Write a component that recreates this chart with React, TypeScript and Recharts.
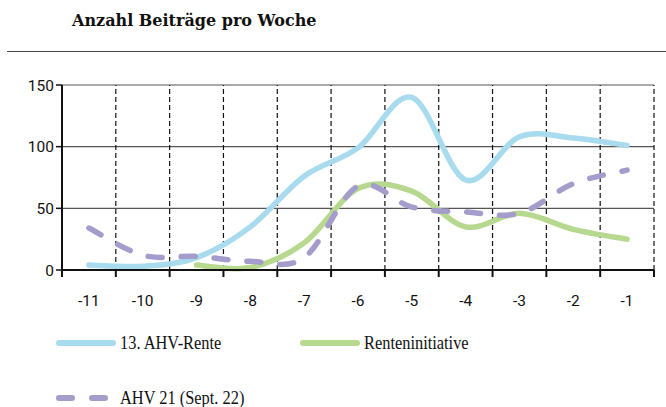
import React from 'react';
import { LineChart, Line, XAxis, YAxis, CartesianGrid, ReferenceLine } from 'recharts';

const weeks = [-11, -10, -9, -8, -7, -6, -5, -4, -3, -2, -1];
const ahvRente = [4, 3, 10, 35, 76, 99, 140, 73, 108, 107, 101];
const renteninitiative = [null, null, 4, 2, 22, 66, 64, 35, 46, 33, 25];
const ahv21 = [34, 12, 11, 7, 10, 68, 51, 47, 46, 70, 81];
const yTicks = [0, 50, 100, 150];
const titleText = 'Anzahl Beiträge pro Woche';
const seriesNames = ['13. AHV-Rente', 'Renteninitiative', 'AHV 21 (Sept. 22)'];

const data = weeks.map((w, i) => ({
  week: w,
  ahvRente: ahvRente[i],
  renteninitiative: renteninitiative[i],
  ahv21: ahv21[i],
}));

const boundaries = [...weeks.map((w) => w - 0.5), weeks[weeks.length - 1] + 0.5];
const xTicks = [...boundaries, ...weeks].sort((a, b) => a - b);

const series = [
  { key: 'ahvRente', name: seriesNames[0], color: '#a8dbee', dash: undefined as string | undefined },
  { key: 'renteninitiative', name: seriesNames[1], color: '#b7d88f', dash: undefined as string | undefined },
  { key: 'ahv21', name: seriesNames[2], color: '#a49ccb', dash: '14 19' },
];

// Excel-like smoothing (uniform Catmull-Rom as cubic Bezier)
function smoothCurve(context: any) {
  let pts: [number, number][] = [];
  return {
    areaStart() {},
    areaEnd() {},
    lineStart() {
      pts = [];
    },
    point(x: number, y: number) {
      pts.push([+x, +y]);
    },
    lineEnd() {
      const n = pts.length;
      if (n === 0) return;
      context.moveTo(pts[0][0], pts[0][1]);
      if (n === 1) return;
      for (let i = 0; i < n - 1; i++) {
        const p0 = pts[i - 1] || pts[i];
        const p1 = pts[i];
        const p2 = pts[i + 1];
        const p3 = pts[i + 2] || pts[i + 1];
        const c1x = p1[0] + (p2[0] - p0[0]) / 6;
        const c1y = p1[1] + (p2[1] - p0[1]) / 6;
        const c2x = p2[0] - (p3[0] - p1[0]) / 6;
        const c2y = p2[1] - (p3[1] - p1[1]) / 6;
        context.bezierCurveTo(c1x, c1y, c2x, c2y, p2[0], p2[1]);
      }
    },
  };
}

const XTick = (props: any) => {
  const { x, y, payload } = props;
  const v = payload.value;
  if (Number.isInteger(v)) {
    return (
      <text x={x} y={y} dy={29} textAnchor="middle" fontFamily="Roboto" fontSize={15.5} fill="#111">
        {v}
      </text>
    );
  }
  return <line x1={x} x2={x} y1={y - 7} y2={y} stroke="#111" strokeWidth={2} />;
};

const LegendItem = ({ s, left, top }: { s: (typeof series)[number]; left: number; top: number }) => (
  <div style={{ position: 'absolute', left, top, height: 20, display: 'flex', alignItems: 'center' }}>
    <svg width={60} height={10} style={{ display: 'block' }}>
      <line
        x1={3}
        x2={s.dash ? 52 : 57}
        y1={5}
        y2={5}
        stroke={s.color}
        strokeWidth={6}
        strokeLinecap="round"
        strokeDasharray={s.dash ? '13 20' : undefined}
      />
    </svg>
    <span
      style={{
        fontFamily: '"Liberation Serif", serif',
        fontSize: 19.5,
        color: '#111',
        marginLeft: 4,
        whiteSpace: 'nowrap',
        display: 'inline-block',
        transform: 'scaleX(0.84)',
        transformOrigin: 'left center',
      }}
    >
      {s.name}
    </span>
  </div>
);

export default function App() {
  return (
    <div style={{ position: 'absolute', left: 0, top: 0, width: 666, height: 407, background: '#fff', overflow: 'hidden' }}>
      <div
        style={{
          position: 'absolute',
          left: 72,
          top: 11,
          fontFamily: '"DejaVu Serif", serif',
          fontWeight: 'bold',
          fontSize: 16,
          color: '#111',
          whiteSpace: 'nowrap',
        }}
      >
        {titleText}
      </div>
      <div style={{ position: 'absolute', left: 7, top: 51, width: 659, height: 0, borderTop: '1.5px solid #444' }} />
      <div style={{ position: 'absolute', left: 0, top: 0 }}>
        <LineChart width={666} height={407} data={data} margin={{ top: 85, right: 12, left: 0, bottom: 97 }}>
          <CartesianGrid vertical={false} stroke="#555" strokeWidth={1.2} />
          {boundaries.slice(1).map((b) => (
            <ReferenceLine key={b} x={b} stroke="#111" strokeWidth={1.2} strokeDasharray="5 3" />
          ))}
          <XAxis
            dataKey="week"
            type="number"
            domain={[boundaries[0], boundaries[boundaries.length - 1]]}
            ticks={xTicks}
            interval={0}
            tickLine={false}
            tickSize={7}
            tickMargin={0}
            height={40}
            axisLine={{ stroke: '#111', strokeWidth: 2 }}
            tick={<XTick />}
            allowDataOverflow
          />
          <YAxis
            domain={[0, 150]}
            ticks={yTicks}
            width={62}
            axisLine={{ stroke: '#111', strokeWidth: 2 }}
            tickLine={{ stroke: '#111', strokeWidth: 1.5 }}
            tickSize={6}
            tick={{ fontFamily: 'Roboto', fontSize: 15.5, fill: '#111' }}
          />
          {series.map((s) => (
            <Line
              key={s.key}
              dataKey={s.key}
              name={s.name}
              type={smoothCurve as any}
              stroke={s.color}
              strokeWidth={5.5}
              strokeLinecap="round"
              strokeDasharray={s.dash}
              dot={false}
              activeDot={false}
              isAnimationActive={false}
            />
          ))}
        </LineChart>
      </div>
      <LegendItem s={series[0]} left={56} top={333} />
      <LegendItem s={series[1]} left={300} top={333} />
      <LegendItem s={series[2]} left={56} top={388} />
    </div>
  );
}
